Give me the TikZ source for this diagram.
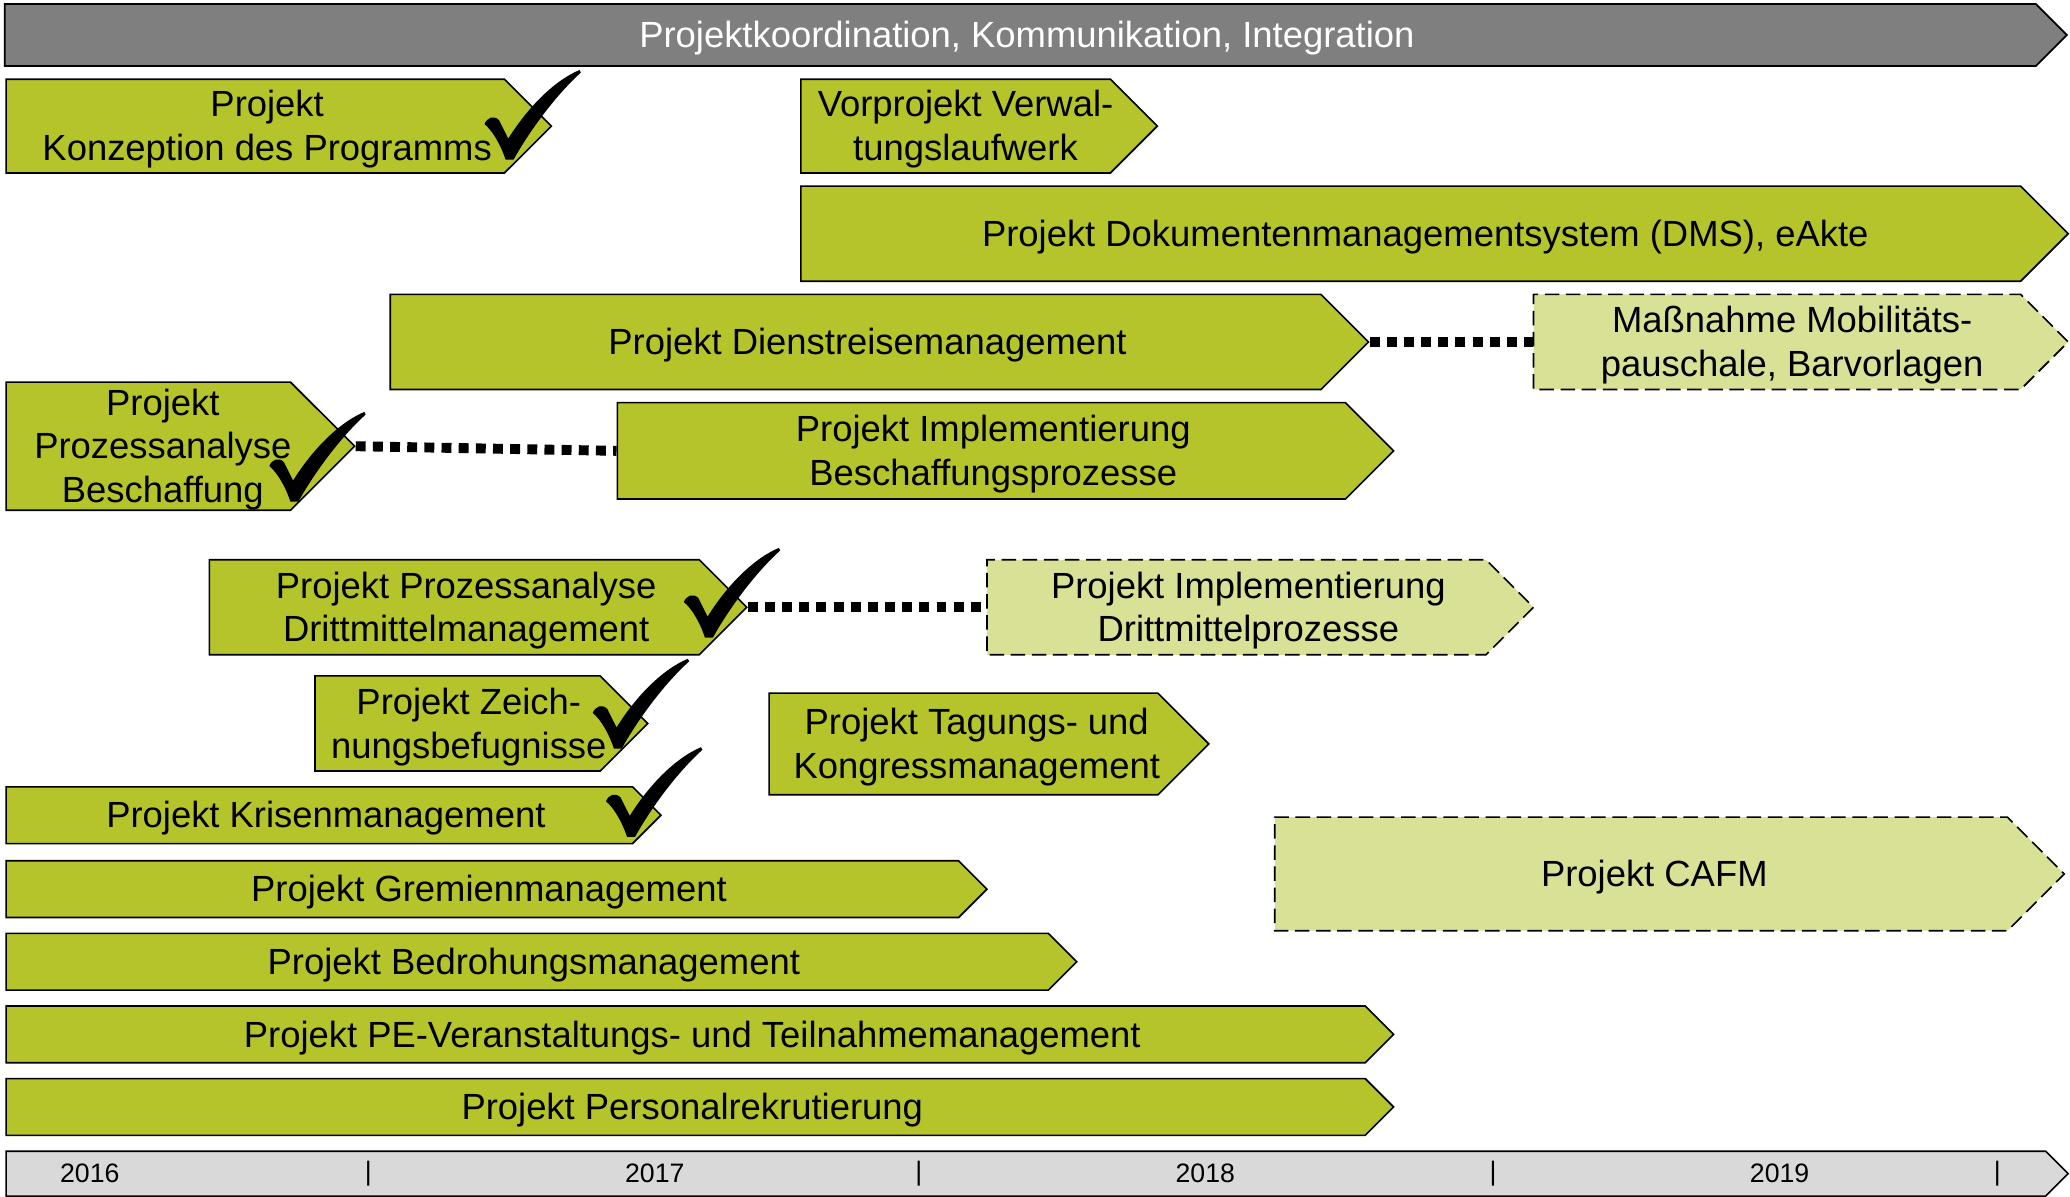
\documentclass[tikz,border=0pt]{standalone}
\usepackage{fontspec}
\setmainfont{Liberation Sans}
\usetikzlibrary{shapes.symbols}
\definecolor{projgreen}{HTML}{B5C42A}
\definecolor{planlight}{HTML}{D8E195}
\definecolor{headgray}{HTML}{7F7F7F}
\definecolor{yeargray}{HTML}{D9D9D9}
\newcommand\taskfont{\fontsize{15.7}{18.9}\selectfont}
\newcommand\yearfont{\fontsize{11.5}{13}\selectfont}
% centred lines, moved right by #1 and set a little low
\newcommand\tasktext[2][0.18cm]{\hspace*{#1}\vbox{\def\\{\cr}%
  \halign{\hfil\vrule height 14.2pt depth 2.6pt width 0pt##\hfil\cr#2\cr}}\hspace*{-#1}}

\tikzset{
  boxsize/.style 2 args={minimum width=#1*0.02cm, minimum height=#2*0.02cm},
  arrowbox/.style={signal, signal to=east, signal pointer angle=90, draw=black,
    line width=0.7pt, inner sep=0pt, anchor=west},
  task/.style={arrowbox, fill=projgreen, font=\taskfont},
  plan/.style={task, fill=planlight, dash pattern=on 0.22cm off 0.1cm},
  link/.style={line width=0.15cm, dash pattern=on 0.15cm off 0.11cm},
  donemark/.pic={
    \fill[black] (-2,0) .. controls (-6,-12) and (-12,-22) .. (-18,-27)
      .. controls (-16,-32) and (-11,-34) .. (-7,-30) -- (0,-16)
      .. controls (15,-40) and (35,-60) .. (54,-68) -- (55,-66)
      .. controls (35,-48) and (15,-20) .. (4,0) -- cycle;
  }
}

\begin{document}
\begin{tikzpicture}[x=0.02cm, y=-0.02cm]
    \useasboundingbox (0,0) rectangle (1568,906);
    \fill[white] (0,0) rectangle (1568,906);

    % programme bar on top
    \node[task, fill=headgray, text=white, boxsize={1562}{47}] (coord) at (3,26.5) {\tasktext[0.1cm]{Projektkoordination, Kommunikation, Integration}};

    % projects
    \node[task, boxsize={413}{71}] (konz) at (4,95.5) {\tasktext{Projekt\\Konzeption des Programms}};
    \node[task, boxsize={270}{71}] (vorp) at (606,95.5) {\tasktext[0.15cm]{Vorprojekt Verwal-\\tungslaufwerk}};
    \node[task, boxsize={960}{72}] (dms) at (606,177) {\tasktext[0.22cm]{Projekt Dokumentenmanagementsystem (DMS), eAkte}};
    \node[task, boxsize={741}{72}] (dienst) at (295,259) {\tasktext{Projekt Dienstreisemanagement}};
    \node[plan, boxsize={405}{72}] (mobil) at (1161,259) {\tasktext[0.23cm]{Maßnahme Mobilitäts-\\pauschale, Barvorlagen}};
    \node[task, boxsize={264}{96}] (beschA) at (4,338) {\tasktext[0.22cm]{Projekt\\Prozessanalyse\\Beschaffung}};
    \node[task, boxsize={588}{73}] (beschI) at (467,341.5) {\tasktext{Projekt Implementierung\\Beschaffungsprozesse}};
    \node[task, boxsize={407}{72}] (drittA) at (158,460) {\tasktext{Projekt Prozessanalyse\\Drittmittelmanagement}};
    \node[plan, boxsize={414}{72}] (drittI) at (747,460) {\tasktext{Projekt Implementierung\\Drittmittelprozesse}};
    \node[task, boxsize={252}{72}] (zeich) at (238,548) {\tasktext[0.17cm]{Projekt Zeich-\\nungsbefugnisse}};
    \node[task, boxsize={333}{77}] (tagung) at (582,563.5) {\tasktext[0.2cm]{Projekt Tagungs- und\\Kongressmanagement}};
    \node[task, boxsize={496}{43}] (krise) at (4,617.5) {\tasktext[0.1cm]{Projekt Krisenmanagement}};
    \node[plan, boxsize={598}{86}] (cafm) at (965,662) {\tasktext[0.2cm]{Projekt CAFM}};
    \node[task, boxsize={743}{43}] (gremium) at (4,673.5) {\tasktext[0.1cm]{Projekt Gremienmanagement}};
    \node[task, boxsize={811}{43}] (bedroh) at (4,728.5) {\tasktext[0.1cm]{Projekt Bedrohungsmanagement}};
    \node[task, boxsize={1051}{43}] (pe) at (4,783.5) {\tasktext[0.1cm]{Projekt PE-Veranstaltungs- und Teilnahmemanagement}};
    \node[task, boxsize={1051}{43}] (personal) at (4,838.5) {\tasktext[0.1cm]{Projekt Personalrekrutierung}};

    % follow-up links
    \draw[link] (dienst.east) -- (mobil.west);
    \draw[link] (beschA.east) -- (beschI.west);
    \draw[link] (drittA.east) -- (drittI.west);

    % finished projects
    \pic at (385,121) {donemark};
    \pic at (222,380) {donemark};
    \pic at (536,483) {donemark};
    \pic at (467,567) {donemark};
    \pic at (477,634) {donemark};

    % time axis
    \node[arrowbox, fill=yeargray, boxsize={1562}{34}] (years) at (4,889) {};
    \foreach \yx/\yr in {68/2016, 496/2017, 913/2018, 1348/2019}
        \node[font=\yearfont] (y\yr) at (\yx,889) {\yr};
    \foreach \sx [count=\i] in {279,696,1131,1513}
        \node[font=\yearfont] (sep\i) at (\sx,889) {|};
\end{tikzpicture}
\end{document}
